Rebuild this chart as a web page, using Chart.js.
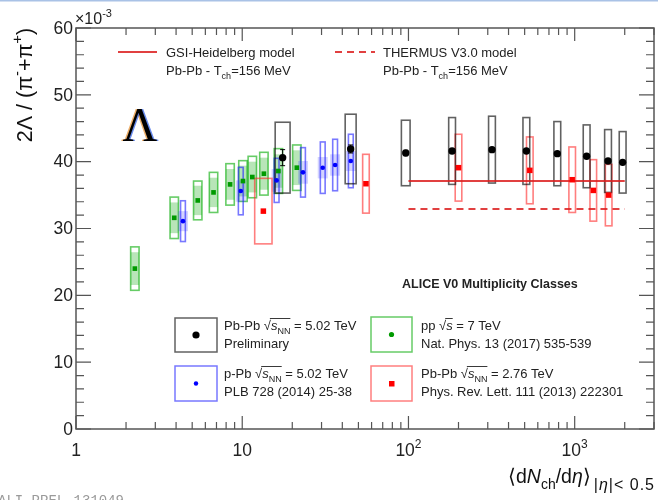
<!DOCTYPE html>
<html>
<head>
<meta charset="utf-8">
<script src="https://cdn.jsdelivr.net/npm/chart.js@4.4.1/dist/chart.umd.min.js"></script>
<style>
  html, body { margin: 0; padding: 0; background: #fff; }
  canvas { display: block; }
</style>
</head>
<body>
<canvas id="lambda" width="658" height="500"></canvas>
<script>
"use strict";

// Pb-Pb 5.02 TeV, preliminary (values in units of 1e-3)
const pbpb502X = [1943, 1587, 1180, 786, 512, 318, 183, 96.3, 44.9, 17.5];
const pbpb502XErr = [54, 46, 31, 20, 15, 12, 8, 5.8, 3.4, 1.8];
const pbpb502Y = [39.9, 40.1, 40.8, 41.2, 41.6, 41.8, 41.6, 41.3, 41.9, 40.6];
const pbpb502Stat = [0.2, 0.2, 0.2, 0.2, 0.2, 0.3, 0.3, 0.4, 0.6, 1.2];
const pbpb502Sys = [4.6, 4.7, 4.7, 4.8, 5.0, 5.0, 5.0, 4.9, 5.2, 5.3];

// p-Pb 5.02 TeV, PLB 728 (2014) 25-38
const ppb502X = [45, 36.2, 30.5, 23.2, 16.1, 9.8, 4.4];
const ppb502Y = [40.1, 39.5, 39.1, 38.4, 37.2, 35.6, 31.1];
const ppb502Sys = [4.0, 3.85, 3.85, 3.7, 3.3, 3.55, 3.05];
const ppb502Uncorr = [1.5, 1.6, 1.6, 1.7, 1.7, 1.6, 1.5];

// pp 7 TeV, Nat. Phys. 13 (2017) 535-539
const pp7X = [21.3, 16.5, 13.5, 11.5, 10.1, 8.45, 6.72, 5.40, 3.90, 2.26];
const pp7Y = [39.1, 38.6, 38.2, 37.7, 37.1, 36.6, 35.4, 34.2, 31.6, 24.0];
const pp7Sys = [3.4, 3.35, 3.2, 3.1, 3.05, 3.1, 3.0, 2.9, 3.1, 3.25];
const pp7Uncorr = [2.6, 2.5, 2.4, 2.3, 2.3, 2.3, 2.2, 2.2, 2.3, 2.45];

// Pb-Pb 2.76 TeV, PRL 111 (2013) 222301
const pbpb276X = [1601, 1294, 966, 537, 200, 55.5, 13.4];
const pbpb276XErr = [60, 49, 37, 19, 7, 2.5, 1.6];
const pbpb276Y = [35.0, 35.7, 37.3, 38.7, 39.1, 36.7, 32.6];
const pbpb276Sys = [4.6, 4.6, 4.9, 5.0, 5.0, 4.4, 4.9];

// thermal model predictions, T_ch = 156 MeV
const modelRange = [100, 2000];
const gsiValue = 37.1;
const thermusValue = 32.9;

const yTicks = [0, 10, 20, 30, 40, 50, 60];
const xTicks = [1, 10, 100, 1000];

const FONT = '"Liberation Sans", Arial, sans-serif';
const pts = (xs, ys) => xs.map((x, i) => ({ x, y: ys[i] }));

// draws a run of [text, style] parts; style is a space separated list of i, b, sub, sup
function rich(ctx, x, y, parts, size, align = "left", smallSize) {
  const segs = parts.map(([t, k = ""]) => {
    const f = k.split(" ");
    const small = f.includes("sub") || f.includes("sup");
    const s = small ? smallSize || Math.round(size * 0.68) : size;
    const font = (f.includes("i") ? "italic " : "") + (f.includes("b") ? "bold " : "") + s + "px " + FONT;
    ctx.font = font;
    return { t, f, font, w: ctx.measureText(t).width };
  });
  const total = segs.reduce((a, p) => a + p.w, 0);
  let cx = align === "right" ? x - total : align === "center" ? x - total / 2 : x;
  ctx.textAlign = "left";
  ctx.textBaseline = "alphabetic";
  const out = [];
  for (const p of segs) {
    ctx.font = p.font;
    const dy = p.f.includes("sub") ? size * 0.32 : p.f.includes("sup") ? -size * 0.45 : 0;
    ctx.fillText(p.t, cx, y + dy);
    out.push({ x: cx, w: p.w });
    cx += p.w;
  }
  return out;
}

// legend line with a sqrt(s) overbar spanning parts a..b
function sqrtLine(ctx, x, y, parts, a, b) {
  const pos = rich(ctx, x, y, parts, 13);
  ctx.strokeStyle = "#222";
  ctx.lineWidth = 0.9;
  ctx.beginPath();
  ctx.moveTo(pos[a].x + pos[a].w - 1, y - 11.5);
  ctx.lineTo(pos[b].x + pos[b].w, y - 11.5);
  ctx.stroke();
}

function boxSeries(ctx, xs, ys, X, Y, half, minHalf, stroke, fill, xerr) {
  for (let i = 0; i < X.length; i++) {
    const cx = xs.getPixelForValue(X[i]);
    let hw = minHalf;
    if (xerr) {
      const w = (xs.getPixelForValue(X[i] + xerr[i]) - xs.getPixelForValue(X[i] - xerr[i])) / 2;
      hw = Math.max(minHalf, w);
    }
    const t = ys.getPixelForValue(Y[i] + half[i]);
    const b = ys.getPixelForValue(Y[i] - half[i]);
    if (fill) {
      ctx.fillStyle = fill;
      ctx.fillRect(cx - hw, t, 2 * hw, b - t);
    }
    if (stroke) {
      ctx.strokeStyle = stroke;
      ctx.strokeRect(cx - hw, t, 2 * hw, b - t);
    }
  }
}

const boxes = {
  id: "boxes",
  beforeDatasetsDraw(chart) {
    const { ctx, chartArea: a } = chart;
    const xs = chart.scales.x, ys = chart.scales.y;
    ctx.save();
    ctx.beginPath();
    ctx.rect(a.left, a.top, a.right - a.left, a.bottom - a.top);
    ctx.clip();
    ctx.lineWidth = 1.6;
    // pp: uncorrelated (filled) inside total (open)
    boxSeries(ctx, xs, ys, pp7X, pp7Y, pp7Uncorr, 4.2, null, "rgba(0,160,0,0.28)");
    boxSeries(ctx, xs, ys, pp7X, pp7Y, pp7Sys, 4.2, "rgba(0,170,0,0.6)", null);
    // p-Pb: wide shaded band, narrow open box
    boxSeries(ctx, xs, ys, ppb502X, ppb502Y, ppb502Uncorr, 5, null, "rgba(60,60,255,0.22)");
    boxSeries(ctx, xs, ys, ppb502X, ppb502Y, ppb502Sys, 2.4, "rgba(30,30,255,0.6)", null);
    // Pb-Pb 2.76
    boxSeries(ctx, xs, ys, pbpb276X, pbpb276Y, pbpb276Sys, 3.3, "rgba(255,40,40,0.6)", null, pbpb276XErr);
    // Pb-Pb 5.02
    boxSeries(ctx, xs, ys, pbpb502X, pbpb502Y, pbpb502Sys, 3.4, "rgba(0,0,0,0.62)", null, pbpb502XErr);
    // Pb-Pb 5.02 statistical bars
    ctx.strokeStyle = "#000";
    ctx.lineWidth = 1;
    for (let i = 0; i < pbpb502X.length; i++) {
      const cx = xs.getPixelForValue(pbpb502X[i]);
      const t = ys.getPixelForValue(pbpb502Y[i] + pbpb502Stat[i]);
      const b = ys.getPixelForValue(pbpb502Y[i] - pbpb502Stat[i]);
      ctx.beginPath();
      ctx.moveTo(cx, t); ctx.lineTo(cx, b);
      ctx.moveTo(cx - 2.5, t); ctx.lineTo(cx + 2.5, t);
      ctx.moveTo(cx - 2.5, b); ctx.lineTo(cx + 2.5, b);
      ctx.stroke();
    }
    ctx.restore();
  },
};

const frame = {
  id: "frame",
  afterDraw(chart) {
    const { ctx, chartArea: a } = chart;
    const xs = chart.scales.x, ys = chart.scales.y;
    ctx.save();

    // slide border
    ctx.fillStyle = "#a9c2e6";
    ctx.fillRect(0, 0, 658, 1.5);

    ctx.strokeStyle = "#555";
    ctx.lineWidth = 1.5;
    ctx.strokeRect(a.left, a.top, a.right - a.left, a.bottom - a.top);

    ctx.lineWidth = 1.2;
    ctx.beginPath();
    for (let v = 0; v <= 60; v += 2) {
      const y = ys.getPixelForValue(v);
      const len = v % 10 === 0 ? 15 : 8;
      ctx.moveTo(a.left, y); ctx.lineTo(a.left + len, y);
      ctx.moveTo(a.right, y); ctx.lineTo(a.right - len, y);
    }
    for (let d = 1; d <= 1000; d *= 10) {
      for (let m = 1; m <= 9; m++) {
        const v = d * m;
        if (v > xs.max) break;
        const x = xs.getPixelForValue(v);
        const len = m === 1 ? 13 : 7;
        ctx.moveTo(x, a.bottom); ctx.lineTo(x, a.bottom - len);
        ctx.moveTo(x, a.top); ctx.lineTo(x, a.top + len);
      }
    }
    ctx.stroke();

    // tick labels
    ctx.fillStyle = "#222";
    ctx.font = "17.5px " + FONT;
    ctx.textAlign = "right";
    ctx.textBaseline = "middle";
    for (const v of yTicks) ctx.fillText(String(v), a.left - 3, ys.getPixelForValue(v) + 1);
    rich(ctx, a.left - 1, 24, [["×10"], ["-3", "sup"]], 16);
    for (const v of xTicks) {
      const x = xs.getPixelForValue(v);
      const e = Math.round(Math.log10(v));
      if (e < 2) rich(ctx, x, 456, [[String(v)]], 17.5, "center");
      else rich(ctx, x, 456, [["10"], [String(e), "sup"]], 17.5, "center");
    }

    // x title, subscript right-aligned to the frame
    ctx.fillStyle = "#111";
    ctx.save();
    ctx.letterSpacing = "1px";
    ctx.font = "16px " + FONT;
    const subW = ctx.measureText("|η|< 0.5").width;
    rich(ctx, a.right + 1 - subW, 490, [["|"], ["η", "i"], ["|< 0.5"]], 16);
    ctx.restore();
    rich(ctx, a.right - subW - 2, 483, [["⟨d"], ["N", "i"], ["ch", "sub"], ["/d"], ["η", "i"], ["⟩"]], 19.5, "right", 14);

    // y title
    ctx.save();
    ctx.translate(32, 85);
    ctx.rotate(-Math.PI / 2);
    rich(ctx, 0, 0, [["2Λ / (π"], ["-", "sup"], ["+π"], ["+", "sup"], [")"]], 21.5, "center");
    ctx.restore();

    // big Lambda with colour fringes
    ctx.font = "48px \"Liberation Serif\", serif";
    ctx.textAlign = "left";
    ctx.textBaseline = "alphabetic";
    ctx.fillStyle = "rgba(230,140,40,0.7)";
    ctx.fillText("Λ", 121, 141);
    ctx.fillStyle = "rgba(40,90,230,0.7)";
    ctx.fillText("Λ", 124, 141);
    ctx.fillStyle = "#000";
    ctx.fillText("Λ", 122.5, 141);

    // model legend
    ctx.lineWidth = 2;
    ctx.strokeStyle = "rgba(220,30,30,0.85)";
    ctx.beginPath(); ctx.moveTo(118, 52); ctx.lineTo(157, 52); ctx.stroke();
    ctx.setLineDash([7, 5]);
    ctx.beginPath(); ctx.moveTo(335, 52); ctx.lineTo(375, 52); ctx.stroke();
    ctx.setLineDash([]);
    ctx.fillStyle = "#222";
    rich(ctx, 166, 56.5, [["GSI-Heidelberg model"]], 13);
    rich(ctx, 166, 74.5, [["Pb-Pb - T"], ["ch", "sub"], ["=156 MeV"]], 13);
    rich(ctx, 383, 56.5, [["THERMUS V3.0 model"]], 13);
    rich(ctx, 383, 74.5, [["Pb-Pb - T"], ["ch", "sub"], ["=156 MeV"]], 13);

    rich(ctx, 402, 288, [["ALICE V0 Multiplicity Classes", "b"]], 12.5);

    // data legend
    ctx.lineWidth = 1.5;
    ctx.strokeStyle = "rgba(0,0,0,0.62)";
    ctx.strokeRect(175, 318, 42, 34);
    ctx.strokeStyle = "rgba(30,30,255,0.6)";
    ctx.strokeRect(175, 366, 42, 35);
    ctx.strokeStyle = "rgba(0,170,0,0.6)";
    ctx.strokeRect(371, 317, 41, 35);
    ctx.strokeStyle = "rgba(255,40,40,0.6)";
    ctx.strokeRect(371, 366, 41, 35);
    ctx.fillStyle = "#000";
    ctx.beginPath(); ctx.arc(196, 335, 3.6, 0, 2 * Math.PI); ctx.fill();
    ctx.fillStyle = "#0000ff";
    ctx.beginPath(); ctx.arc(196, 383.5, 2.2, 0, 2 * Math.PI); ctx.fill();
    ctx.fillStyle = "#009a00";
    ctx.beginPath(); ctx.arc(391.5, 334.5, 2.6, 0, 2 * Math.PI); ctx.fill();
    ctx.fillStyle = "#ff0000";
    ctx.fillRect(389, 381, 5.5, 5.5);

    ctx.fillStyle = "#222";
    sqrtLine(ctx, 224, 330, [["Pb-Pb "], ["√"], ["s", "i"], ["NN", "sub"], [" = 5.02 TeV"]], 1, 3);
    rich(ctx, 224, 348, [["Preliminary"]], 13);
    sqrtLine(ctx, 224, 378, [["p-Pb "], ["√"], ["s", "i"], ["NN", "sub"], [" = 5.02 TeV"]], 1, 3);
    rich(ctx, 224, 396, [["PLB 728 (2014) 25-38"]], 13);
    sqrtLine(ctx, 421, 330, [["pp "], ["√"], ["s", "i"], [" = 7 TeV"]], 1, 2);
    rich(ctx, 421, 348, [["Nat. Phys. 13 (2017) 535-539"]], 13);
    sqrtLine(ctx, 421, 378, [["Pb-Pb "], ["√"], ["s", "i"], ["NN", "sub"], [" = 2.76 TeV"]], 1, 3);
    rich(ctx, 421, 396, [["Phys. Rev. Lett. 111 (2013) 222301"]], 13);

    // figure id
    ctx.fillStyle = "#9a9a9a";
    ctx.font = "14px \"Liberation Mono\", monospace";
    ctx.textAlign = "left";
    ctx.fillText("ALI-PREL-131049", -2, 505);
    ctx.restore();
  },
};

const modelLine = (label, value, dash) => ({
  label,
  data: modelRange.map((x) => ({ x, y: value })),
  showLine: true,
  borderColor: "rgba(220,30,30,0.85)",
  borderWidth: 2,
  borderDash: dash,
  pointRadius: 0,
});

new Chart(document.getElementById("lambda"), {
  type: "scatter",
  data: {
    datasets: [
      { label: "Pb-Pb 5.02 TeV", data: pts(pbpb502X, pbpb502Y), pointStyle: "circle", pointRadius: 3.7, backgroundColor: "#000", borderWidth: 0 },
      { label: "Pb-Pb 2.76 TeV", data: pts(pbpb276X, pbpb276Y), pointStyle: "rect", pointRadius: 3.9, backgroundColor: "#ff0000", borderWidth: 0 },
      { label: "p-Pb 5.02 TeV", data: pts(ppb502X, ppb502Y), pointStyle: "circle", pointRadius: 2.3, backgroundColor: "#0000ff", borderWidth: 0 },
      { label: "pp 7 TeV", data: pts(pp7X, pp7Y), pointStyle: "rect", pointRadius: 3.3, backgroundColor: "#009a00", borderWidth: 0 },
      modelLine("GSI-Heidelberg", gsiValue, []),
      modelLine("THERMUS V3.0", thermusValue, [7, 5]),
    ],
  },
  options: {
    responsive: false,
    animation: false,
    events: [],
    layout: { padding: { top: 28, right: 3, left: 0, bottom: 0 } },
    plugins: { legend: { display: false }, tooltip: { enabled: false } },
    scales: {
      x: {
        type: "logarithmic",
        min: 1,
        max: 3000,
        grid: { display: false, drawTicks: false },
        border: { display: false },
        ticks: { display: false },
        afterFit: (s) => { s.height = 71; },
      },
      y: {
        min: 0,
        max: 60,
        grid: { display: false, drawTicks: false },
        border: { display: false },
        ticks: { display: false },
        afterFit: (s) => { s.width = 76; },
      },
    },
  },
  plugins: [boxes, frame],
});
</script>
</body>
</html>
